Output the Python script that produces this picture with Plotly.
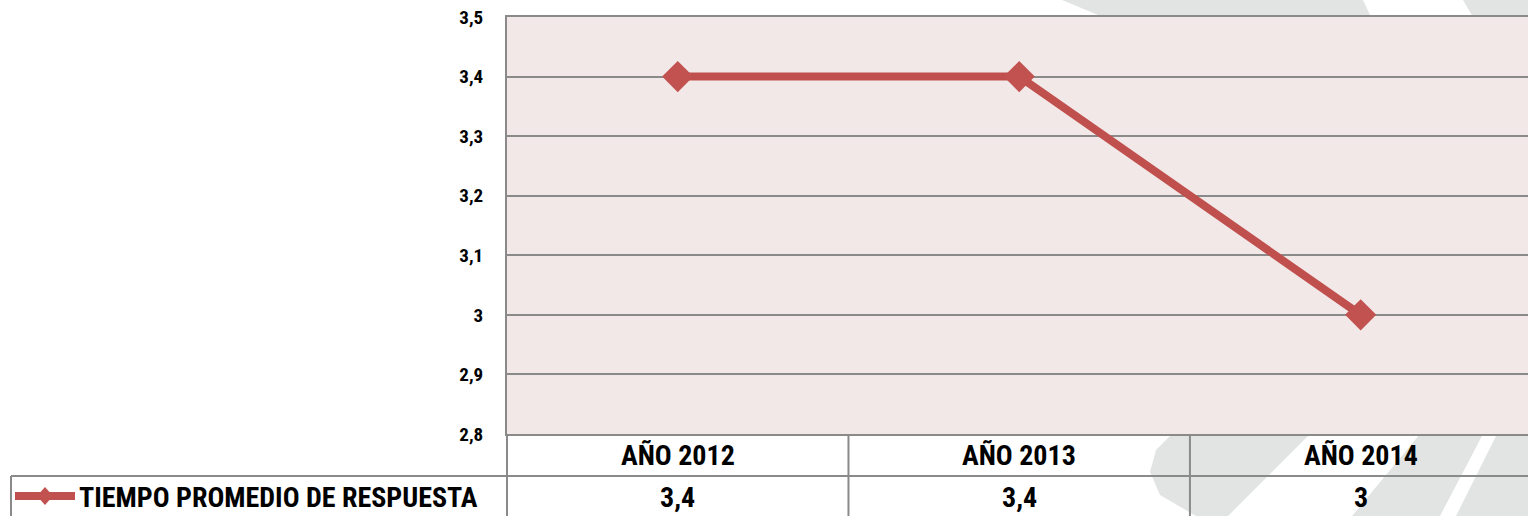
import plotly.graph_objects as go

# data
years = ["AÑO 2012", "AÑO 2013", "AÑO 2014"]
tiempo = [3.4, 3.4, 3.0]
value_labels = ["3,4", "3,4", "3"]
series_name = "TIEMPO PROMEDIO DE RESPUESTA"

W, H = 1528, 516
ML, MR, MT, MB = 507, 0, 17, 82
RED = "#c0504d"
GRID = "#8a8a8a"
WM = "#e2e4e4"
FONT = "Roboto Condensed, Liberation Sans Narrow, Arial Narrow, DejaVu Sans Condensed, sans-serif"


# helpers that turn screen pixels of the target picture into paper coords
def px_x(px):
    return (px - ML) / (W - ML - MR)


def px_y(py):
    return (H - MB - py) / (H - MT - MB)


def poly(points, color=WM, layer="below"):
    path = "M " + " L ".join(f"{px_x(x):.5f},{px_y(y):.5f}" for x, y in points) + " Z"
    return dict(type="path", xref="paper", yref="paper", path=path,
                fillcolor=color, line=dict(width=0), layer=layer)


fig = go.Figure()

fig.add_trace(
    go.Scatter(
        x=years,
        y=tiempo,
        mode="lines+markers",
        name=series_name,
        line=dict(color=RED, width=8),
        marker=dict(symbol="diamond", size=24, color="#c2524f"),
        showlegend=False,
    )
)

shapes = []

# faint background watermark
shapes.append(poly([(1062, 0), (1363, 0), (1371, 17), (1103, 17)]))
shapes.append(poly([(1463, 0), (1528, 0), (1528, 17), (1473, 17)]))
shapes.append(poly([(1172, 434), (1310, 434), (1228, 516), (1196, 516), (1160, 495), (1150, 472), (1156, 450)]))
shapes.append(poly([(1420, 434), (1483, 434), (1440, 516), (1352, 516)]))
shapes.append(poly([(1497, 434), (1528, 434), (1528, 516), (1456, 516)]))

# data table grid below the plot
row_mid = px_y(476)
bottom = px_y(516)
line_style = dict(color=GRID, width=2)
for b in [0.5, 1.5]:
    shapes.append(dict(type="line", xref="x", yref="paper", x0=b, x1=b, y0=0, y1=bottom, line=line_style))
shapes.append(dict(type="line", xref="paper", yref="paper", x0=0, x1=0, y0=0, y1=bottom, line=line_style))
shapes.append(dict(type="line", xref="paper", yref="paper", x0=px_x(11), x1=1, y0=row_mid, y1=row_mid,
                   line=line_style))
shapes.append(dict(type="line", xref="paper", yref="paper", x0=px_x(11), x1=px_x(11), y0=row_mid, y1=bottom,
                   line=line_style))

# legend key in the table's first cell
key_y = px_y(496)
shapes.append(dict(type="line", xref="paper", yref="paper", x0=px_x(15), x1=px_x(75), y0=key_y, y1=key_y,
                   line=dict(color=RED, width=8), layer="above"))
shapes.append(poly([(45, 487), (53, 496), (45, 505), (37, 496)], color="#c2524f", layer="above"))

cell_font = dict(family=FONT, size=28, color="black", weight="bold")
annotations = []
for yr, lab in zip(years, value_labels):
    annotations.append(dict(x=yr, xref="x", y=px_y(456), yref="paper", text=yr, showarrow=False,
                            xanchor="center", yanchor="middle", font=cell_font))
    annotations.append(dict(x=yr, xref="x", y=px_y(497), yref="paper", text=lab, showarrow=False,
                            xanchor="center", yanchor="middle", font=cell_font))
annotations.append(dict(x=px_x(77), xref="paper", y=px_y(497), yref="paper", text=series_name,
                        xanchor="left", yanchor="middle", showarrow=False, font=cell_font))

fig.update_layout(
    width=W,
    height=H,
    margin=dict(l=ML, r=MR, t=MT, b=MB, autoexpand=False),
    paper_bgcolor="white",
    plot_bgcolor="#f2e8e8",
    separators=",.",
    shapes=shapes,
    annotations=annotations,
    showlegend=False,
)
fig.update_xaxes(
    type="category",
    range=[-0.5, 2.49],
    showticklabels=False,
    showgrid=False,
    showline=True,
    mirror=True,
    linecolor=GRID,
    linewidth=2,
    zeroline=False,
    automargin=False,
)
fig.update_yaxes(
    range=[2.8, 3.5000001],
    tickmode="linear",
    dtick=0.1,
    tick0=2.8,
    showgrid=True,
    gridcolor=GRID,
    gridwidth=1.5,
    showline=True,
    linecolor=GRID,
    linewidth=2,
    zeroline=False,
    automargin=False,
    ticks="outside",
    ticklen=18,
    tickcolor="rgba(0,0,0,0)",
    ticklabeloverflow="allow",
    tickfont=dict(family=FONT, size=19, color="black", weight="bold"),
)

# drop the default 8px page margin so the figure fills the window exactly
fig.write_html(
    "out.html",
    config={"displayModeBar": False},
    post_script="document.body.style.margin='0';document.body.style.overflow='hidden';",
)
